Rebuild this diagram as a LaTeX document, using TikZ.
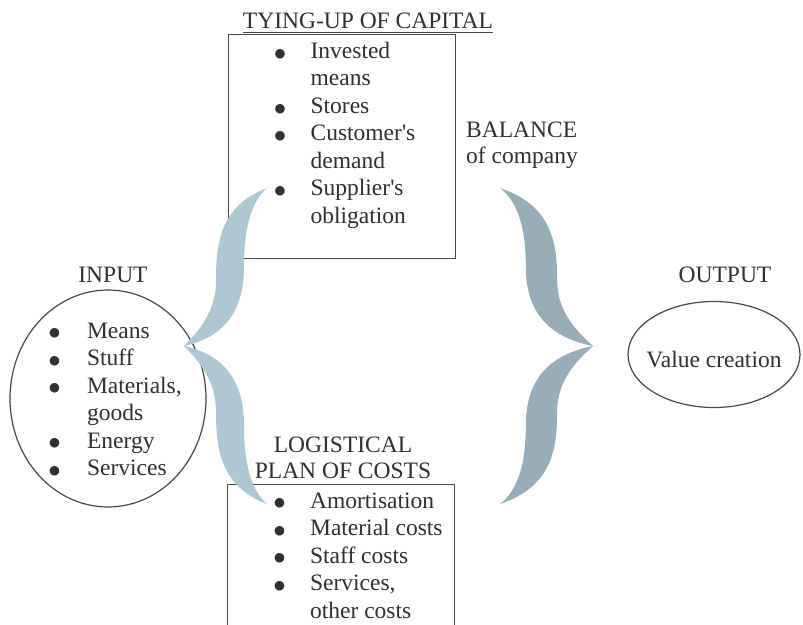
\documentclass[tikz,border=0pt]{standalone}
\usepackage{fontspec}
\setmainfont{Liberation Serif}
\newfontfamily\timesface{Liberation Serif}
\newfontfamily\dotfont{DejaVu Sans}
\usetikzlibrary{shapes.geometric}

\definecolor{ink}{RGB}{48,48,48}
\definecolor{framegray}{RGB}{72,72,72}
\definecolor{braceleft}{RGB}{174,199,211}
\definecolor{braceright}{RGB}{152,173,183}

% list bullet and text size
\newcommand\blt{\raisebox{1.2pt}{\dotfont\fontsize{12.5}{12.5}\selectfont ●}}
\newcommand\listfont{\timesface\fontsize{23.5}{27.5}\selectfont}

\tikzset{
  txt/.style={inner sep=0pt, text=ink, font=\listfont},
  itemlist/.style={txt, anchor=base west},
  frame/.style={draw=framegray, line width=1.2pt},
  ring/.style={frame, ellipse, inner sep=0pt},
  box/.style={frame, rectangle, inner sep=0pt, anchor=north west}
}

\begin{document}
\begin{tikzpicture}[x=1pt,y=-1pt]
\useasboundingbox (0,0) rectangle (803,624);
\clip (0,0) rectangle (803,624);
\fill[white] (0,0) rectangle (803,624);

% ---- tying-up of capital ----
\node[txt, anchor=base] (captitle) at (368,28) {TYING-UP OF CAPITAL};
\draw[draw=framegray, line width=1pt]
  ([yshift=-4pt]captitle.base west) -- ([yshift=-4pt]captitle.base east);
\node[box, minimum width=227pt, minimum height=224pt] (capbox) at (228,34) {};
\node[itemlist] (caplist) at (274.5,58.3) {\begin{tabular}[t]{@{}l@{\hspace{25pt}}l@{}}
\blt & Invested\\
     & means\\
\blt & Stores\\
\blt & Customer\textquotesingle s\\
     & demand\\
\blt & Supplier\textquotesingle s\\
     & obligation
\end{tabular}};

% ---- balance label ----
\node[itemlist] (balance) at (466,137) {\fontsize{23.5}{26}\selectfont
  \begin{tabular}[t]{@{}l@{}}BALANCE\\of company\end{tabular}};

% ---- input ----
\node[txt, anchor=base] (inputlabel) at (113,282) {INPUT};
\node[ring, minimum width=196pt, minimum height=217pt] (inputring) at (108,398.5) {};
\node[itemlist] (inputlist) at (49,338) {\begin{tabular}[t]{@{}l@{\hspace{27pt}}l@{}}
\blt & Means\\
\blt & Stuff\\
\blt & Materials,\\
     & goods\\
\blt & Energy\\
\blt & Services
\end{tabular}};

% ---- output ----
\node[txt, anchor=base] (outputlabel) at (725,282) {OUTPUT};
\node[ring, minimum width=172pt, minimum height=106pt] (outputring) at (714,354.5) {};
\node[txt, anchor=base] (outputtext) at (714,367) {Value creation};

% ---- logistical plan of costs ----
\node[txt, anchor=base] (costtitle) at (343,452) {\fontsize{23.5}{26}\selectfont
  \begin{tabular}[t]{@{}c@{}}LOGISTICAL\\PLAN OF COSTS\end{tabular}};
\node[box, minimum width=227pt, minimum height=200pt] (costbox) at (227,484) {};
\node[itemlist] (costlist) at (274,508) {\begin{tabular}[t]{@{}l@{\hspace{25pt}}l@{}}
\blt & Amortisation\\
\blt & Material costs\\
\blt & Staff costs\\
\blt & Services,\\
     & other costs
\end{tabular}};

% ---- braces (two mirrored lobes each) ----
\begin{scope}[shift={(184,346)}]
  \foreach \s in {1,-1}{
    \fill[braceleft, yscale=\s]
      (0,0) .. controls (15,-15) and (32,-35) .. (32,-65)
            .. controls (32,-100) and (35,-140) .. (83,-158)
            .. controls (68,-145) and (60,-120) .. (60,-80)
            .. controls (60,-40) and (45,-10) .. (0,0) -- cycle;
  }
\end{scope}
\begin{scope}[shift={(593,346)}, xscale=-1.12]
  \foreach \s in {1,-1}{
    \fill[braceright, yscale=\s]
      (0,0) .. controls (15,-15) and (32,-35) .. (32,-65)
            .. controls (32,-100) and (35,-140) .. (83,-158)
            .. controls (68,-145) and (60,-120) .. (60,-80)
            .. controls (60,-40) and (45,-10) .. (0,0) -- cycle;
  }
\end{scope}
\end{tikzpicture}
\end{document}
